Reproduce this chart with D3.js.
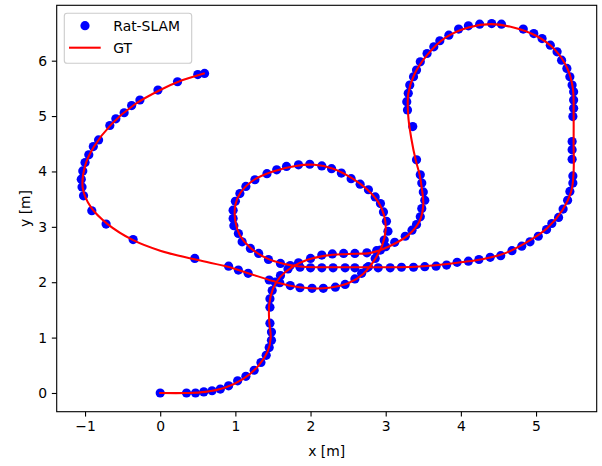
<!DOCTYPE html>
<html>
<head>
<meta charset="utf-8">
<script src="https://cdn.jsdelivr.net/npm/d3@7"></script>
<style>
  html, body { margin: 0; padding: 0; background: #fff; }
  svg { display: block; font-family: "DejaVu Sans", sans-serif; }
</style>
</head>
<body>
<svg id="chart" width="602" height="466"></svg>
<script>
// ---------------- DATA ----------------
const seriesNames = ["Rat-SLAM", "GT"];
const xTicks = [-1, 0, 1, 2, 3, 4, 5];
const yTicks = [0, 1, 2, 3, 4, 5, 6];
const xLabel = "x [m]";
const yLabel = "y [m]";

// Rat-SLAM estimated positions (x, y) in metres, in travel order
const slamX = [
  0.00, 0.35, 0.47, 0.58, 0.69, 0.80, 0.91, 1.03, 1.14, 1.25, 1.34, 1.41, 1.45, 1.48, 1.48, 1.46,
  1.46, 1.46, 1.49, 1.53, 1.60, 1.70, 1.84, 2.00, 2.15, 2.29, 2.44, 2.59, 2.75, 2.88, 3.00, 3.12,
  3.26, 3.35, 3.41, 3.46, 3.48, 3.52, 3.50, 3.48, 3.46, 3.41, 3.36,
  3.29, 3.28, 3.30, 3.32, 3.37, 3.41, 3.46, 3.55, 3.64, 3.72, 3.84, 3.97, 4.10, 4.25, 4.41, 4.54,
  4.83, 4.97, 5.08, 5.19, 5.28, 5.34, 5.41, 5.45, 5.48, 5.50, 5.50, 5.50, 5.49,
  5.48, 5.48, 5.48,
  5.49, 5.49, 5.45, 5.42, 5.36, 5.30, 5.21, 5.14, 5.03, 4.92, 4.81, 4.68, 4.53, 4.39, 4.24, 4.10,
  3.95, 3.81, 3.67, 3.52, 3.37, 3.21, 3.06, 2.90, 2.75, 2.59, 2.46, 2.30, 2.15, 2.00, 1.86, 1.73,
  1.60, 1.44, 1.31, 1.20, 1.09, 1.04, 0.98, 0.97, 0.97, 1.00, 1.06, 1.14, 1.26, 1.42, 1.55, 1.68,
  1.84, 1.99, 2.15, 2.28, 2.41, 2.54, 2.66, 2.77, 2.86, 2.93, 2.97, 3.01, 3.03, 2.98, 2.93, 2.86,
  2.77, 2.68, 2.59, 2.46, 2.33, 2.17, 2.02, 1.86, 1.73, 1.59, 1.45, 1.17, 1.04, 0.91, 0.46,
  -0.36, -0.72, -0.91, -1.02, -1.04, -1.05, -1.03, -1.00, -0.95, -0.89, -0.82, -0.67, -0.59, -0.48,
  -0.38, -0.27, -0.03, 0.23, 0.50, 0.59
];
const slamY = [
  0.00, 0.00, 0.00, 0.02, 0.04, 0.07, 0.13, 0.22, 0.30, 0.41, 0.55, 0.68, 0.82, 0.95, 1.10, 1.26,
  1.55, 1.70, 1.85, 2.00, 2.12, 2.24, 2.35, 2.43, 2.49, 2.51, 2.52, 2.52, 2.53, 2.57, 2.64, 2.72,
  2.83, 2.94, 3.04, 3.18, 3.33, 3.48, 3.63, 3.79, 3.94, 4.21, 4.81,
  5.11, 5.26, 5.41, 5.56, 5.71, 5.83, 5.98, 6.13, 6.25, 6.36, 6.46, 6.57, 6.63, 6.66, 6.67, 6.66,
  6.57, 6.49, 6.40, 6.28, 6.16, 6.01, 5.86, 5.71, 5.56, 5.44, 5.29, 5.14, 4.99,
  4.54, 4.39, 4.22,
  3.92, 3.79, 3.64, 3.48, 3.32, 3.17, 3.06, 2.95, 2.83, 2.73, 2.65, 2.57, 2.48, 2.45, 2.41, 2.38,
  2.36, 2.31, 2.29, 2.28, 2.27, 2.27, 2.26, 2.26, 2.26, 2.26, 2.26, 2.26, 2.26, 2.26, 2.27, 2.30,
  2.34, 2.41, 2.52, 2.61, 2.73, 2.88, 3.02, 3.15, 3.30, 3.46, 3.60, 3.73, 3.85, 3.96, 4.03, 4.09,
  4.12, 4.13, 4.10, 4.05, 3.97, 3.87, 3.77, 3.67, 3.54, 3.42, 3.27, 3.10, 2.92, 2.76, 2.58, 2.43,
  2.28, 2.16, 2.06, 1.96, 1.91, 1.89, 1.89, 1.90, 1.94, 1.99, 2.04, 2.16, 2.22, 2.29, 2.43,
  2.77, 3.05, 3.29, 3.56, 3.72, 3.86, 4.01, 4.16, 4.30, 4.45, 4.57, 4.83, 4.95, 5.06,
  5.19, 5.29, 5.47, 5.62, 5.75, 5.77
];

// Ground-truth trajectory waypoints (x, y) in metres, in travel order
const gtX = [
  0.00, 0.35, 0.60, 0.85, 1.10, 1.30, 1.43, 1.47, 1.45, 1.45, 1.50, 1.60, 1.75, 1.95, 2.20, 2.50,
  2.80, 3.05, 3.30, 3.45, 3.50, 3.48, 3.45, 3.40, 3.34, 3.30, 3.30, 3.38, 3.55, 3.80, 4.10, 4.40,
  4.70, 5.00, 5.25, 5.42, 5.49, 5.50, 5.50, 5.50, 5.47, 5.35, 5.15, 4.90, 4.60, 4.30, 4.00, 3.70,
  3.40, 3.00, 2.60, 2.20, 1.90, 1.65, 1.42, 1.20, 1.06, 1.00, 1.00, 1.07, 1.25, 1.50, 1.80, 2.05,
  2.30, 2.55, 2.75, 2.90, 2.98, 3.00, 2.95, 2.85, 2.70, 2.50, 2.25, 2.00, 1.75, 1.50, 1.20, 0.90,
  0.50, 0.00, -0.36, -0.70, -0.92, -1.03, -1.00, -0.88, -0.65, -0.35, 0.00, 0.30, 0.58
];
const gtY = [
  0.00, 0.00, 0.02, 0.09, 0.25, 0.48, 0.75, 1.00, 1.30, 1.60, 1.88, 2.10, 2.27, 2.40, 2.48, 2.51,
  2.53, 2.65, 2.85, 3.10, 3.40, 3.70, 3.95, 4.20, 4.60, 5.00, 5.40, 5.75, 6.10, 6.42, 6.60, 6.66,
  6.60, 6.45, 6.20, 5.85, 5.50, 5.00, 4.50, 4.00, 3.65, 3.30, 2.98, 2.74, 2.53, 2.42, 2.36, 2.31,
  2.28, 2.27, 2.27, 2.27, 2.28, 2.33, 2.43, 2.62, 2.85, 3.10, 3.40, 3.62, 3.85, 4.00, 4.10, 4.12,
  4.05, 3.88, 3.68, 3.45, 3.20, 2.95, 2.65, 2.40, 2.15, 1.98, 1.90, 1.89, 1.93, 2.02, 2.15, 2.28,
  2.40, 2.57, 2.76, 3.05, 3.35, 3.70, 4.10, 4.45, 4.85, 5.20, 5.47, 5.65, 5.77
];

// ---------------- CHART ----------------
const svg = d3.select("#chart");
const W = 602, H = 466;
const plot = { left: 56.7, right: 596.7, top: 5.3, bottom: 411.7 };
const FS = 13.9;
const R = 4.6;

const x = d3.scaleLinear().domain([-1.377, 5.807]).range([plot.left, plot.right]);
const y = d3.scaleLinear().domain([-0.338, 7.0]).range([plot.bottom, plot.top]);

const slam = slamX.map((v, i) => ({ x: v, y: slamY[i] }));
const gt = gtX.map((v, i) => ({ x: v, y: gtY[i] }));

svg.append("rect").attr("width", W).attr("height", H).attr("fill", "#fff");

svg.append("clipPath").attr("id", "clip")
  .append("rect")
  .attr("x", plot.left).attr("y", plot.top)
  .attr("width", plot.right - plot.left).attr("height", plot.bottom - plot.top);

const g = svg.append("g").attr("clip-path", "url(#clip)");

// Rat-SLAM markers
g.append("g").selectAll("circle")
  .data(slam)
  .join("circle")
  .attr("cx", d => x(d.x))
  .attr("cy", d => y(d.y))
  .attr("r", R)
  .attr("fill", "#0000ff");

// GT line on top
const line = d3.line().x(d => x(d.x)).y(d => y(d.y)).curve(d3.curveCatmullRom.alpha(0.5));
g.append("path")
  .datum(gt)
  .attr("d", line)
  .attr("fill", "none")
  .attr("stroke", "#ff0000")
  .attr("stroke-width", 2.08)
  .attr("stroke-linejoin", "round")
  .attr("stroke-linecap", "square");

// Axes
const tickLen = 4.86, tickPad = 4.86;
const xAxis = svg.append("g")
  .attr("transform", `translate(0,${plot.bottom})`)
  .call(d3.axisBottom(x).tickValues(xTicks).tickSize(tickLen).tickSizeOuter(0).tickPadding(tickPad)
    .tickFormat(d => d < 0 ? "\u2212" + Math.abs(d) : String(d)));
const yAxis = svg.append("g")
  .attr("transform", `translate(${plot.left},0)`)
  .call(d3.axisLeft(y).tickValues(yTicks).tickSize(tickLen).tickSizeOuter(0).tickPadding(tickPad)
    .tickFormat(d => String(d)));

[xAxis, yAxis].forEach(a => {
  a.select(".domain").remove();
  a.selectAll(".tick line").attr("stroke", "#000").attr("stroke-width", 1.11);
  a.selectAll(".tick text")
    .attr("fill", "#000")
    .style("font-family", "'DejaVu Sans', sans-serif")
    .style("font-size", FS + "px");
});

// Frame (spines)
svg.append("rect")
  .attr("x", plot.left).attr("y", plot.top)
  .attr("width", plot.right - plot.left).attr("height", plot.bottom - plot.top)
  .attr("fill", "none").attr("stroke", "#000").attr("stroke-width", 1.11);

// Axis labels
svg.append("text")
  .attr("x", (plot.left + plot.right) / 2).attr("y", 456)
  .attr("text-anchor", "middle").attr("font-size", FS).attr("fill", "#000")
  .text(xLabel);
svg.append("text")
  .attr("transform", `translate(30,${(plot.top + plot.bottom) / 2}) rotate(-90)`)
  .attr("text-anchor", "middle").attr("font-size", FS).attr("fill", "#000")
  .text(yLabel);

// Legend
const lg = svg.append("g");
lg.append("rect")
  .attr("x", 64.3).attr("y", 13.3).attr("width", 127.4).attr("height", 50)
  .attr("rx", 2.8).attr("ry", 2.8)
  .attr("fill", "#fff").attr("fill-opacity", 0.8)
  .attr("stroke", "#cccccc").attr("stroke-width", 1.11);
lg.append("circle").attr("cx", 85).attr("cy", 25.7).attr("r", R).attr("fill", "#0000ff");
lg.append("line").attr("x1", 69).attr("x2", 100.7).attr("y1", 47.7).attr("y2", 47.7)
  .attr("stroke", "#ff0000").attr("stroke-width", 2.08);
lg.selectAll("text.leg")
  .data(seriesNames)
  .join("text")
  .attr("class", "leg")
  .attr("x", 113.3)
  .attr("y", (d, i) => 25.7 + i * 22)
  .attr("dy", "0.36em")
  .attr("font-size", FS)
  .attr("fill", "#000")
  .text(d => d);
</script>
</body>
</html>
